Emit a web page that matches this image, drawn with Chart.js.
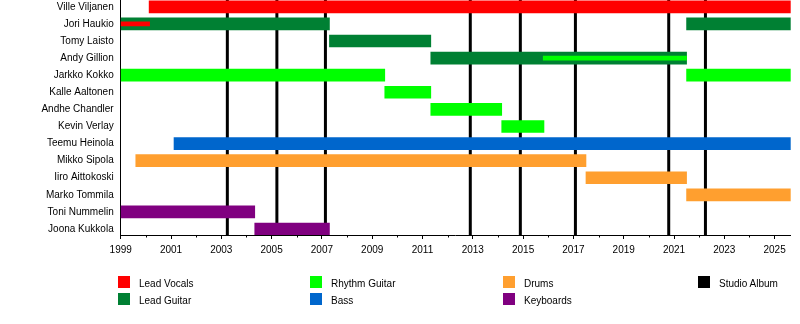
<!DOCTYPE html>
<html><head><meta charset="utf-8">
<script src="https://cdn.jsdelivr.net/npm/chart.js@4.4.1/dist/chart.umd.min.js"></script>
<style>
html,body{margin:0;padding:0;background:#fff;}
#wrap{position:relative;width:800px;height:324px;font-family:"Liberation Sans",Arial,sans-serif;}
#c{position:absolute;left:0;top:0;}
.lg{position:absolute;font-size:10px;color:#000;line-height:12px;white-space:nowrap;height:12px;}
.lg i{position:absolute;left:0;top:0;width:12px;height:12px;}
.lg span{position:absolute;left:21px;top:2px;}
</style></head><body>
<div id="wrap"><canvas id="c" width="800" height="324"></canvas><div id="legend"></div></div>
<script>
// ---- data ----
const members = ['Ville Viljanen','Jori Haukio','Tomy Laisto','Andy Gillion','Jarkko Kokko','Kalle Aaltonen','Andhe Chandler','Kevin Verlay','Teemu Heinola','Mikko Sipola','Iiro Aittokoski','Marko Tommila','Toni Nummelin','Joona Kukkola'];
const yearTicks = [1999,2001,2003,2005,2007,2009,2011,2013,2015,2017,2019,2021,2023,2025];
const minorYears = [2000,2002,2004,2006,2008,2010,2012,2014,2016,2018,2020,2022,2024];
const timelineStart = 1999;
const timelineEnd = 2025.64;
const leadVocals = [['Ville Viljanen',2000.13,2025.64]];
const leadVocalsAlso = [['Jori Haukio',1999,2000.15]];
const leadGuitar = [['Jori Haukio',1999,2007.3],['Jori Haukio',2021.5,2025.64],['Tomy Laisto',2007.3,2011.33],['Andy Gillion',2011.33,2021.5]];
const rhythmGuitar = [['Jarkko Kokko',1999,2009.5],['Jarkko Kokko',2021.5,2025.64],['Kalle Aaltonen',2009.5,2011.33],['Andhe Chandler',2011.33,2014.15],['Kevin Verlay',2014.15,2015.83]];
const rhythmGuitarAlso = [['Andy Gillion',2015.8,2021.5]];
const bass = [['Teemu Heinola',2001.12,2025.64]];
const drums = [['Mikko Sipola',1999.6,2017.5],['Iiro Aittokoski',2017.5,2021.5],['Marko Tommila',2021.5,2025.64]];
const keyboards = [['Toni Nummelin',1999,2004.33],['Joona Kukkola',2004.33,2007.3]];
const studioAlbums = [2003.24,2005.21,2007.14,2012.9,2014.89,2017.08,2020.79,2022.25];
const legendLabels = [['Lead Vocals','Lead Guitar'],['Rhythm Guitar','Bass'],['Drums','Keyboards'],['Studio Album']];

// ---- styles ----
const palette = {'Lead Vocals':'#ff0000','Lead Guitar':'#008033','Rhythm Guitar':'#00ff00','Bass':'#0066cc','Drums':'#ff9f2f','Keyboards':'#800080','Studio Album':'#000000'};
const FONT = "'Liberation Sans', Arial, sans-serif";
const Y_MIN = -0.4, Y_MAX = 13.35;

function toData(list){ return list.map(([m,a,b]) => ({x:[a,b], y:members.indexOf(m)})); }
function ds(label, list, thin, order){
  return {label, data:toData(list), backgroundColor:palette[label], borderWidth:0,
    grouped:false, categoryPercentage:1, barPercentage:1, maxBarThickness: thin ? 4 : 12, order};
}

const albumLines = {
  id:'albumLines',
  beforeDatasetsDraw(chart){
    const {ctx, chartArea:a, scales:{x}} = chart;
    ctx.save(); ctx.strokeStyle = palette['Studio Album']; ctx.lineWidth = 3;
    studioAlbums.forEach(v => { const px = x.getPixelForValue(v); ctx.beginPath(); ctx.moveTo(px,a.top); ctx.lineTo(px,a.bottom); ctx.stroke(); });
    ctx.restore();
  },
  afterDraw(chart){
    const {ctx, chartArea:a, scales:{x}} = chart;
    ctx.save(); ctx.strokeStyle = '#000'; ctx.lineWidth = 1;
    minorYears.forEach(v => { const px = Math.round(x.getPixelForValue(v)) + 0.5; ctx.beginPath(); ctx.moveTo(px,a.bottom); ctx.lineTo(px,a.bottom+2.5); ctx.stroke(); });
    ctx.restore();
  }
};

new Chart(document.getElementById('c'), {
  type:'bar',
  data:{datasets:[
    ds('Lead Vocals', leadVocalsAlso, true, 0),
    ds('Rhythm Guitar', rhythmGuitarAlso, true, 1),
    ds('Lead Vocals', leadVocals, false, 2),
    ds('Lead Guitar', leadGuitar, false, 3),
    ds('Rhythm Guitar', rhythmGuitar, false, 4),
    ds('Bass', bass, false, 5),
    ds('Drums', drums, false, 6),
    ds('Keyboards', keyboards, false, 7)
  ]},
  options:{
    indexAxis:'y', responsive:false, animation:false,
    layout:{padding:{top:0,right:9.3,bottom:0,left:0}},
    plugins:{legend:{display:false}, tooltip:{enabled:false}},
    scales:{
      x:{type:'linear', position:'bottom', min:timelineStart, max:timelineEnd, bounds:'data', offset:false,
        afterBuildTicks(s){ s.ticks = yearTicks.map(v => ({value:v})); s.min = timelineStart; s.max = timelineEnd; },
        afterFit(s){ s.height = 89; s.paddingLeft = 0; s.paddingRight = 0; },
        ticks:{font:{family:FONT,size:10}, color:'#000', padding:5, maxRotation:0, autoSkip:false, callback:v => String(v)},
        grid:{drawOnChartArea:false, drawTicks:true, tickLength:4, color:'#000', tickWidth:1, offset:false},
        border:{display:true, color:'#000', width:1}
      },
      y:{type:'linear', reverse:true, min:Y_MIN, max:Y_MAX, bounds:'data', offset:false,
        afterBuildTicks(s){ s.ticks = members.map((m,i) => ({value:i})); s.min = Y_MIN; s.max = Y_MAX; },
        afterFit(s){ s.width = 120.7; s.paddingTop = 0; s.paddingBottom = 0; },
        ticks:{font:{family:FONT,size:10}, color:'#000', padding:7, autoSkip:false, callback:v => members[v] ?? ''},
        grid:{display:false, drawTicks:false, offset:false},
        border:{display:true, color:'#000', width:1}
      }
    }
  },
  plugins:[albumLines]
});

// ---- HTML legend ----
const colX = [118,310,503,698];
const rowY = [276,293];
const lg = document.getElementById('legend');
legendLabels.forEach((col,ci) => col.forEach((name,ri) => {
  const d = document.createElement('div'); d.className = 'lg';
  d.style.left = colX[ci] + 'px'; d.style.top = rowY[ri] + 'px';
  const i = document.createElement('i'); i.style.background = palette[name];
  const s = document.createElement('span'); s.textContent = name;
  d.appendChild(i); d.appendChild(s); lg.appendChild(d);
}));
</script>
</body></html>
